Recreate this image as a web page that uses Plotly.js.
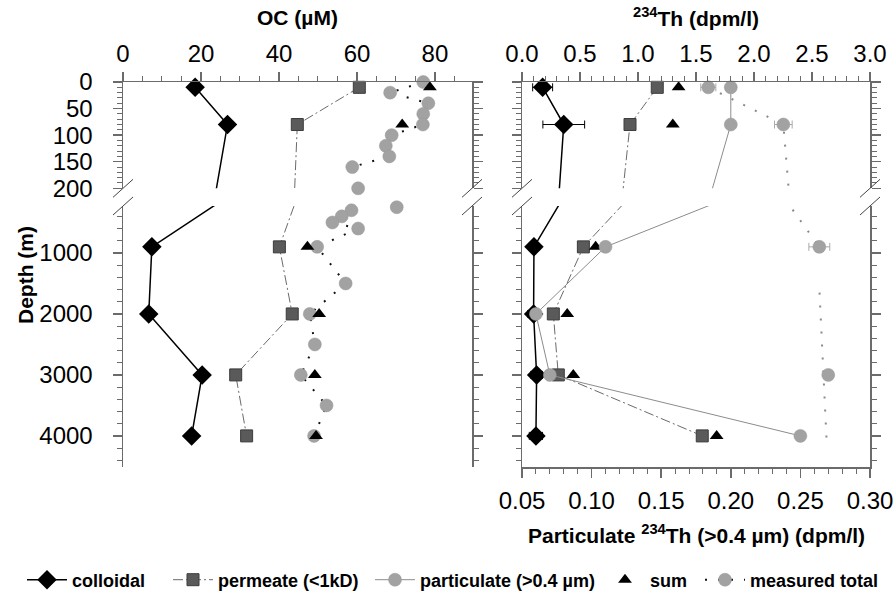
<!DOCTYPE html>
<html><head><meta charset="utf-8">
<script src="https://cdn.plot.ly/plotly-3.0.1.min.js"></script>
<style>html,body{margin:0;padding:0;background:#fff}#chart{width:896px;height:601px}</style>
</head><body><div id="chart"></div>
<script>
// ---------- data ----------
// Left panel: organic carbon (µM) vs depth (m)
const depthOC = [10, 80, 900, 2000, 3000, 4000];
const colloidalOC = [18.5, 26.8, 7.4, 6.6, 20.3, 17.6];
const permeateOC = [60.6, 44.7, 40.1, 43.4, 28.9, 31.7];
const sumOC = [78.7, 71.6, 47.3, 50.3, 49.2, 49.5];
const totalOCDepth = [0, 20, 40, 60, 80, 100, 120, 140, 160, 200, 300, 400, 500, 600, 900, 1500, 2000, 2500, 3000, 3500, 4000];
const totalOC = [77.0, 68.5, 78.3, 77.0, 76.9, 68.9, 67.4, 68.3, 58.8, 60.3, 58.6, 56.1, 53.7, 60.3, 49.8, 57.1, 47.9, 49.2, 45.6, 52.2, 49.0];
const extraOCDepth = [250];
const extraOC = [70.2];

// Right panel: 234Th (dpm/l) vs depth (m)
const depthTh = [10, 80, 900, 2000, 3000, 4000];
const colloidalTh = [0.178, 0.36, 0.103, 0.10, 0.126, 0.12];
const colloidalThErr = [0.086, 0.18, 0.043, 0.05, 0.05, 0.057];
const permeateTh = [1.166, 0.931, 0.529, 0.27, 0.313, 1.554];
const sumTh = [1.35, 1.30, 0.635, 0.39, 0.442, 1.678];
const particulateTh = [0.200, 0.200, 0.110, 0.060, 0.070, 0.250]; // bottom axis scale
const totalThDepth = [10, 80, 900, 3000];
const totalTh = [1.606, 2.253, 2.563, 2.64];
const totalThErr = [0.065, 0.076, 0.09, 0];
const totalThPathDepth = [10, 80, 900, null, 1650, 4120];
const totalThPath = [1.606, 2.253, 2.563, null, 2.565, 2.627];

// ranges
const ocRange = [0, 89.5];
const thRange = [0, 3];
const partRange = [0.05, 0.30];
const upperDepthRange = [200, 0];
const lowerDepthRange = [4510, 230];

// legend labels
const legendNames = ['colloidal', 'permeate (&lt;1kD)', 'particulate (&gt;0.4 µm)', 'sum', 'measured total'];

// ---------- geometry ----------
const FONT = 'Liberation Sans, Arial, Helvetica, sans-serif';
const AX = '#6b6b6b';
const PL = 123, PR = 870, PT = 82, PB = 467, W = 896, H = 601;
const PW = PR - PL, PH = PB - PT;
const px2x = p => (p - PL) / PW;
const py2y = p => (PB - p) / PH;
const domL = [0, px2x(472)];
const domR = [px2x(522), 1];
const domUp = [py2y(188.3), 1];
const domLow = [0, py2y(206)];

function clone(o) { return JSON.parse(JSON.stringify(o)); }
function both(t, xa, yLow, yUp) {
  const up = clone(t); up.xaxis = xa; up.yaxis = yUp;
  const low = clone(t); low.xaxis = xa; low.yaxis = yLow; low.showlegend = false;
  return [low, up];
}

const diamond = {symbol: 'diamond', size: 15, color: '#000'};
const square = {symbol: 'square', size: 12, color: '#5a5a5a', line: {color: '#3c3c3c', width: 1}};
const tri = {symbol: 'triangle-up', size: 12, color: '#000'};
const circ = {symbol: 'circle', size: 13, color: '#a2a2a2', line: {color: '#999', width: 0.5}};
const dotted = '2px,11px';
const dashdot = '10px,3px,2px,3px';

let traces = [];
// ---- left panel ----
traces = traces.concat(both({type: 'scatter', mode: 'lines+markers', name: legendNames[0], legend: 'legend',
  x: colloidalOC, y: depthOC, line: {color: '#000', width: 1.5}, marker: diamond, cliponaxis: false}, 'x', 'y', 'y2'));
traces = traces.concat(both({type: 'scatter', mode: 'lines+markers', name: legendNames[1], legend: 'legend2',
  x: permeateOC, y: depthOC, line: {color: '#6a6a6a', width: 1, dash: dashdot}, marker: square, cliponaxis: false}, 'x', 'y', 'y2'));
traces = traces.concat(both({type: 'scatter', mode: 'lines+markers', name: legendNames[4], legend: 'legend5',
  x: totalOC, y: totalOCDepth, line: {color: '#111', width: 2, dash: dotted}, marker: circ, cliponaxis: false}, 'x', 'y', 'y2'));
traces = traces.concat(both({type: 'scatter', mode: 'markers', name: 'measured total extra', showlegend: false,
  x: extraOC, y: extraOCDepth, marker: circ, cliponaxis: false}, 'x', 'y', 'y2'));
traces = traces.concat(both({type: 'scatter', mode: 'markers', name: legendNames[3], legend: 'legend4',
  x: sumOC, y: depthOC, marker: tri, cliponaxis: false}, 'x', 'y', 'y2'));

// ---- right panel ----
traces = traces.concat(both({type: 'scatter', mode: 'markers', showlegend: false, name: 'colloidal err',
  x: colloidalTh, y: depthTh, marker: {size: 1, opacity: 0},
  error_x: {type: 'data', array: colloidalThErr, color: '#000', thickness: 1, width: 4}, cliponaxis: true}, 'x2', 'y3', 'y4'));
traces = traces.concat(both({type: 'scatter', mode: 'markers', showlegend: false, name: 'total err',
  x: totalTh, y: totalThDepth, marker: {size: 1, opacity: 0},
  error_x: {type: 'data', array: totalThErr, color: '#aaa', thickness: 1, width: 4}, cliponaxis: true}, 'x2', 'y3', 'y4'));
traces = traces.concat(both({type: 'scatter', mode: 'lines', showlegend: false, name: 'total path',
  x: totalThPath, y: totalThPathDepth, connectgaps: false, line: {color: '#8a8a8a', width: 2, dash: dotted}}, 'x2', 'y3', 'y4'));
traces = traces.concat(both({type: 'scatter', mode: 'lines+markers', showlegend: false, name: 'colloidal',
  x: colloidalTh, y: depthTh, line: {color: '#000', width: 1.5}, marker: diamond, cliponaxis: false}, 'x2', 'y3', 'y4'));
traces = traces.concat(both({type: 'scatter', mode: 'markers', showlegend: false, name: 'measured total',
  x: totalTh, y: totalThDepth, marker: circ, cliponaxis: false}, 'x2', 'y3', 'y4'));
traces = traces.concat(both({type: 'scatter', mode: 'lines+markers', showlegend: false, name: 'permeate',
  x: permeateTh, y: depthTh, line: {color: '#6a6a6a', width: 1, dash: dashdot}, marker: square, cliponaxis: false}, 'x2', 'y3', 'y4'));
traces = traces.concat(both({type: 'scatter', mode: 'markers', showlegend: false, name: 'sum',
  x: sumTh, y: depthTh, marker: tri, cliponaxis: false}, 'x2', 'y3', 'y4'));
traces = traces.concat(both({type: 'scatter', mode: 'lines+markers', name: legendNames[2], legend: 'legend3',
  x: particulateTh, y: depthTh, line: {color: '#8c8c8c', width: 1}, marker: circ, cliponaxis: false}, 'x3', 'y3', 'y4'));

// ---------- axes ----------
function axis(extra) {
  return Object.assign({
    showline: true, linecolor: AX, linewidth: 1.5, ticks: 'outside', ticklen: 9, tickwidth: 1.5, tickcolor: AX,
    showgrid: false, zeroline: false, autorange: false, fixedrange: true,
    tickfont: {family: FONT, size: 24, color: '#000'}
  }, extra);
}
const minor = d => ({ticks: 'outside', ticklen: 5, tickwidth: 1, tickcolor: AX, dtick: d, showgrid: false});

function legendAt(textStartPx) {
  return {orientation: 'h', xref: 'container', x: (textStartPx - 50) / W, xanchor: 'left',
    yref: 'container', y: (H - 580) / H, yanchor: 'middle', itemwidth: 40,
    font: {family: FONT, size: 18, weight: 'bold', color: '#000'}, bgcolor: 'rgba(0,0,0,0)', borderwidth: 0};
}

const layout = {
  width: W, height: H, margin: {l: PL, r: W - PR, t: PT, b: H - PB, pad: 0},
  paper_bgcolor: '#fff', plot_bgcolor: '#fff', font: {family: FONT, color: '#000'},
  showlegend: true,
  xaxis: axis({domain: domL, range: ocRange, anchor: 'y2', side: 'top', dtick: 20, tick0: 0, minor: minor(5), ticklabelstandoff: 0}),
  xaxis4: axis({domain: domL, range: ocRange, anchor: 'y', side: 'bottom', overlaying: 'x', dtick: 20, tick0: 0, minor: minor(5), showticklabels: false}),
  xaxis2: axis({domain: domR, range: thRange, anchor: 'y4', side: 'top', dtick: 0.5, tick0: 0, tickformat: '.1f', minor: minor(0.1), ticklabelstandoff: 0}),
  xaxis3: axis({domain: domR, range: partRange, anchor: 'y3', side: 'bottom', overlaying: 'x2', dtick: 0.05, tick0: 0, tickformat: '.2f', minor: minor(0.01), ticklabelstandoff: 3}),
  yaxis: axis({domain: domLow, range: lowerDepthRange, anchor: 'x', dtick: 1000, tick0: 0, minor: minor(200), mirror: 'ticks', ticklabelstandoff: 15}),
  yaxis2: axis({domain: domUp, range: upperDepthRange, anchor: 'x', dtick: 50, tick0: 0, minor: minor(10), mirror: 'ticks', ticklabelstandoff: 15}),
  yaxis3: axis({domain: domLow, range: lowerDepthRange, anchor: 'x2', dtick: 1000, tick0: 0, minor: minor(200), mirror: 'ticks', showticklabels: false}),
  yaxis4: axis({domain: domUp, range: upperDepthRange, anchor: 'x2', dtick: 50, tick0: 0, minor: minor(10), mirror: 'ticks', showticklabels: false}),
  legend: legendAt(72),
  legend2: legendAt(218),
  legend3: legendAt(420),
  legend4: legendAt(650),
  legend5: legendAt(750),
  annotations: [
    {text: 'OC (µM)', xref: 'paper', yref: 'paper', x: (domL[0] + domL[1]) / 2, y: py2y(18), xanchor: 'center', yanchor: 'middle', showarrow: false,
      font: {family: FONT, size: 21, weight: 'bold'}},
    {text: '<sup>234</sup>Th (dpm/l)', xref: 'paper', yref: 'paper', x: (domR[0] + domR[1]) / 2, y: py2y(17), xanchor: 'center', yanchor: 'middle', showarrow: false,
      font: {family: FONT, size: 21, weight: 'bold'}},
    {text: 'Particulate <sup>234</sup>Th (&gt;0.4 µm) (dpm/l)', xref: 'paper', yref: 'paper', x: (domR[0] + domR[1]) / 2, y: py2y(534), xanchor: 'center', yanchor: 'middle', showarrow: false,
      font: {family: FONT, size: 21, weight: 'bold'}},
    {text: 'Depth (m)', xref: 'paper', yref: 'paper', x: px2x(25), y: py2y(275), xanchor: 'center', yanchor: 'middle', showarrow: false, textangle: -90,
      font: {family: FONT, size: 21, weight: 'bold'}}
  ],
  shapes: []
};

// axis-break slashes on every vertical axis line
[PL, 472, 522, PR].forEach(function (xp) {
  [domUp[0], domLow[1]].forEach(function (yv) {
    layout.shapes.push({type: 'line', xref: 'paper', yref: 'paper', xsizemode: 'pixel', ysizemode: 'pixel',
      xanchor: px2x(xp), yanchor: yv, x0: -10, x1: 10, y0: -9, y1: 9, line: {color: '#444', width: 1}});
  });
});

Plotly.newPlot('chart', traces, layout, {staticPlot: true, displayModeBar: false});
</script>
</body></html>
